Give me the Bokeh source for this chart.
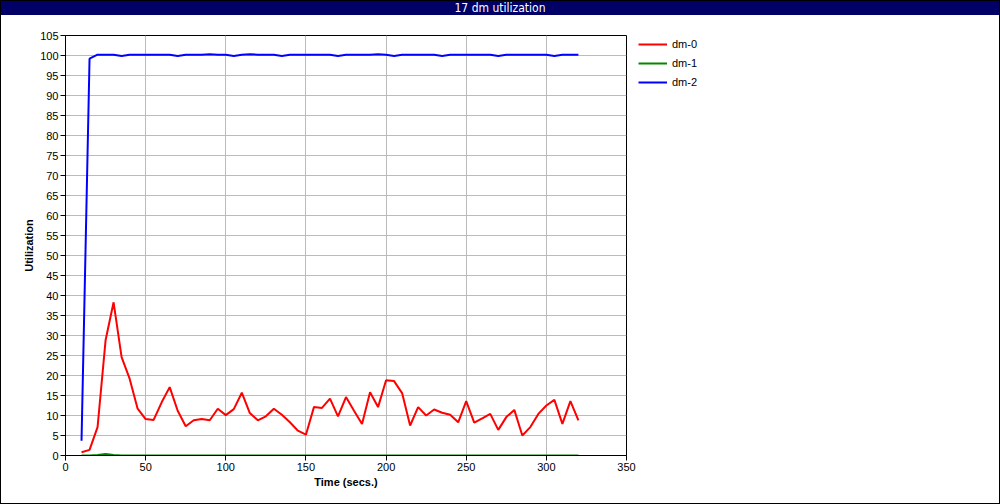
from bokeh.plotting import figure
from bokeh.models import FixedTicker, Legend, LegendItem, Range1d, ColumnDataSource, Div
from bokeh.layouts import column, row
from bokeh.embed import file_html
from bokeh.resources import INLINE

title_text = "17 dm utilization"
x_label = "Time (secs.)"
y_label = "Utilization"
series_names = ["dm-0", "dm-1", "dm-2"]
series_colors = ["#ff0000", "#008800", "#0000ff"]

time_s = [10, 15, 20, 25, 30, 35, 40, 45, 50, 55, 60, 65, 70, 75, 80, 85, 90, 95, 100,
          105, 110, 115, 120, 125, 130, 135, 140, 145, 150, 155, 160, 165, 170, 175,
          180, 185, 190, 195, 200, 205, 210, 215, 220, 225, 230, 235, 240, 245, 250,
          255, 260, 265, 270, 275, 280, 285, 290, 295, 300, 305, 310, 315, 320]

dm0 = [0.8, 1.4, 7.1, 28.8, 38.3, 24.6, 19.2, 11.7, 9.1, 8.9, 13.3, 17.1, 11.2, 7.3,
       8.8, 9.1, 8.8, 11.7, 10.1, 11.6, 15.7, 10.6, 8.8, 9.8, 11.7, 10.2, 8.3, 6.2,
       5.2, 12.1, 11.9, 14.2, 9.8, 14.6, 11.2, 7.9, 15.8, 12.1, 18.8, 18.6, 15.6, 7.5,
       12.1, 10.0, 11.5, 10.7, 10.2, 8.3, 13.6, 8.2, 9.3, 10.4, 6.4, 9.6, 11.4, 5.0,
       7.1, 10.4, 12.5, 13.9, 7.9, 13.6, 8.8]

dm1 = [0.0, 0.0, 0.1, 0.35, 0.1, 0.0, 0.0, 0.0, 0.0, 0.0, 0.0, 0.0, 0.0, 0.0,
       0.0, 0.0, 0.0, 0.0, 0.0, 0.0, 0.0, 0.0, 0.0, 0.0, 0.0, 0.0, 0.0, 0.0,
       0.0, 0.0, 0.0, 0.0, 0.0, 0.0, 0.0, 0.0, 0.0, 0.0, 0.0, 0.0, 0.0, 0.0,
       0.0, 0.0, 0.0, 0.0, 0.0, 0.0, 0.0, 0.0, 0.0, 0.0, 0.0, 0.0, 0.0, 0.0,
       0.0, 0.0, 0.0, 0.0, 0.0, 0.0, 0.0]

dm2 = [3.7, 99.2, 100.2, 100.2, 100.2, 99.9, 100.2, 100.2, 100.2, 100.2, 100.2, 100.2,
       99.9, 100.2, 100.2, 100.2, 100.3, 100.2, 100.2, 99.9, 100.2, 100.3, 100.2, 100.2,
       100.2, 99.9, 100.2, 100.2, 100.2, 100.2, 100.2, 100.2, 99.9, 100.2, 100.2, 100.2,
       100.2, 100.3, 100.2, 99.9, 100.2, 100.2, 100.2, 100.2, 100.2, 99.9, 100.2, 100.2,
       100.2, 100.2, 100.2, 100.2, 99.9, 100.2, 100.2, 100.2, 100.2, 100.2, 100.2, 99.9,
       100.2, 100.2, 100.2]

x_ticks = [0, 50, 100, 150, 200, 250, 300, 350]
y_ticks = [0, 5, 10, 15, 20, 25, 30, 35, 40, 45, 50, 55, 60, 65, 70, 75, 80, 85, 90,
           95, 100, 105]

FONT = "Liberation Sans"
NAVY = "#000066"
W = 998
BL, FW, BR = 64, 561, 12
PW = BL + FW + BR          # main chart width
LW = W - PW                # legend area width
MAIN_H, BT, BB = 488, 20, 48
FH = MAIN_H - BT - BB      # 420

# header bar
hdr = Div(text=title_text, width=W, height=14,
          styles={"background-color": NAVY, "color": "white", "text-align": "center",
                  "font-family": "'DejaVu Sans Condensed', 'Liberation Sans', sans-serif",
                  "font-size": "12px", "line-height": "14px", "margin": "0",
                  "padding": "0", "overflow": "hidden"})

# main chart
p = figure(width=PW, height=MAIN_H, x_range=Range1d(0, 350), y_range=Range1d(0, 105),
           toolbar_location=None, output_backend="svg",
           min_border_left=BL, min_border_right=BR, min_border_top=BT,
           min_border_bottom=BB)
p.outline_line_color = "black"
p.outline_line_width = 1

src = ColumnDataSource(dict(t=time_s, dm0=dm0, dm1=dm1, dm2=dm2))
for col, color in zip(["dm0", "dm1", "dm2"], series_colors):
    p.line("t", col, source=src, line_color=color, line_width=2)

p.xaxis.ticker = FixedTicker(ticks=x_ticks)
p.yaxis.ticker = FixedTicker(ticks=y_ticks)
for ax in (p.xaxis[0], p.yaxis[0]):
    ax.minor_tick_line_color = None
    ax.major_tick_in = 0
    ax.major_tick_out = 5
    ax.major_tick_line_color = "black"
    ax.axis_line_color = "black"
    ax.major_label_text_font = FONT
    ax.major_label_text_font_size = "11px"
    ax.major_label_text_color = "black"
    ax.axis_label_text_font = FONT
    ax.axis_label_text_font_size = "11px"
    ax.axis_label_text_font_style = "bold"
    ax.axis_label_text_color = "black"

p.xaxis.axis_label = x_label
p.yaxis.axis_label = y_label
p.xaxis.major_label_standoff = 2
p.yaxis.major_label_standoff = 2
p.xaxis.axis_label_standoff = 2
p.yaxis.axis_label_standoff = 2

p.grid.grid_line_color = "#bbbbbb"
p.grid.grid_line_width = 1

# legend area (its frame lines up with the chart frame in the row)
lf = figure(width=LW, height=MAIN_H, x_range=Range1d(0, 1), y_range=Range1d(0, 1),
            toolbar_location=None, output_backend="svg", min_border=0)
lf.axis.visible = False
lf.grid.visible = False
lf.outline_line_color = None
# proxy renderers lying outside the visible range, used only for legend swatches
leg_renderers = [lf.line(x=[-5, -4], y=[-5, -4], line_color=c, line_width=2)
                 for c in series_colors]

GH, SP = 14, 5
LEG_H = 3 * GH + 2 * SP
legend = Legend(items=[LegendItem(label=n, renderers=[r]) for n, r in zip(series_names, leg_renderers)],
                location=(0, FH - 2 - LEG_H), border_line_color=None,
                background_fill_alpha=0,
                glyph_width=29, glyph_height=GH, label_height=GH, spacing=SP,
                label_standoff=5, padding=0, margin=0,
                label_text_font=FONT, label_text_font_size="11px",
                label_text_color="black")
lf.add_layout(legend, "center")

layout = column(hdr, row(p, lf, spacing=0), spacing=0,
                styles={"border": "1px solid black", "background-color": "white"})

open("out.html", "w").write(file_html(layout, INLINE))
